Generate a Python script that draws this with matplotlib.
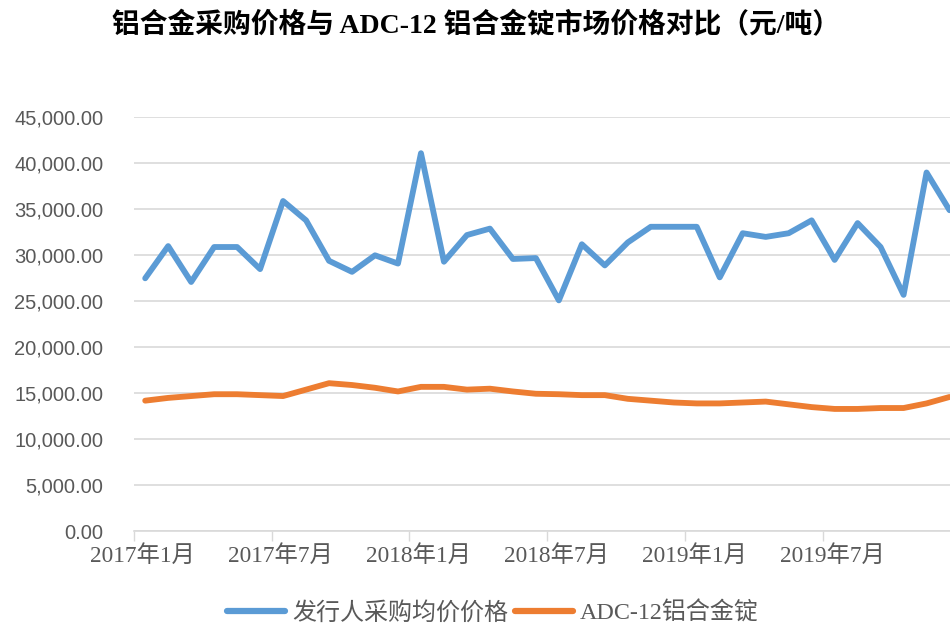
import matplotlib
matplotlib.use("Agg")
import matplotlib.pyplot as plt
from matplotlib.ticker import FuncFormatter, FixedLocator

# Monthly data, Jan 2017 - Dec 2019 (元/吨)
months = [f"{y}年{m}月" for y in (2017, 2018, 2019) for m in range(1, 13)]

purchase_price = [
    27500, 31000, 27100, 30900, 30900, 28500, 35900, 33800, 29400, 28200, 30000, 29100,
    41100, 29300, 32200, 32900, 29600, 29700, 25100, 31200, 28900, 31400, 33100, 33100,
    33100, 27600, 32400, 32000, 32400, 33800, 29500, 33500, 30900, 25700, 39000, 34900,
]
adc12_price = [
    14200, 14500, 14700, 14900, 14900, 14800, 14700, 15400, 16100, 15900, 15600, 15200,
    15700, 15700, 15400, 15500, 15200, 14950, 14900, 14800, 14800, 14400, 14200, 14000,
    13900, 13900, 14000, 14100, 13800, 13500, 13300, 13300, 13400, 13400, 13900, 14600,
]

series_names = ["发行人采购均价价格", "ADC-12铝合金锭"]
title_text = "铝合金采购价格与 ADC-12 铝合金锭市场价格对比（元/吨）"
label_every = 6

BLUE = "#5B9BD5"
ORANGE = "#ED7D31"
TEXT = "#595959"
GRID = "#D9D9D9"

serif_cjk = ["Liberation Serif", "Noto Sans CJK SC"]
sans_cjk = ["Liberation Sans", "Noto Sans CJK SC"]

fig = plt.figure(figsize=(9.5, 6.28), dpi=100)
W, H = 950, 628
left_px, right_px, top_px, bottom_px = 133.7, 950, 117.3, 531.3
ax = fig.add_axes([left_px / W, 1 - bottom_px / H,
                   (right_px - left_px) / W, (bottom_px - top_px) / H])

x = [i + 0.5 for i in range(len(months))]
ax.plot(x, purchase_price, color=BLUE, lw=4.2, solid_joinstyle="round",
        solid_capstyle="round", label=series_names[0], zorder=3)
ax.plot(x, adc12_price, color=ORANGE, lw=4.2, solid_joinstyle="round",
        solid_capstyle="round", label=series_names[1], zorder=3)

ax.set_ylim(0, 45000)
ax.set_yticks(range(0, 45001, 5000))
ax.yaxis.set_major_formatter(FuncFormatter(lambda v, p: f"{v:,.2f}"))
ax.set_xlim(0, 35.52)

# Tick marks between categories, labels centred on the category
ax.xaxis.set_major_locator(FixedLocator(list(range(0, len(months), label_every))))
ax.xaxis.set_minor_locator(FixedLocator([i + 0.4 for i in range(0, len(months), label_every)]))
ax.set_xticklabels([""] * len(range(0, len(months), label_every)))
ax.set_xticklabels([months[i] for i in range(0, len(months), label_every)], minor=True)
ax.tick_params(axis="x", which="major", length=7, width=1, color=GRID, direction="out")
ax.tick_params(axis="x", which="minor", length=0, pad=10, labelsize=16.8, labelcolor=TEXT)
for lbl in ax.get_xticklabels(minor=True):
    lbl.set_family(serif_cjk)

ax.tick_params(axis="y", length=0, pad=22, labelsize=14.5, labelcolor=TEXT)
for lbl in ax.get_yticklabels():
    lbl.set_family(sans_cjk)

ax.grid(axis="y", color=GRID, lw=1.2)
ax.set_axisbelow(True)
for side in ("left", "right", "top"):
    ax.spines[side].set_visible(False)
ax.spines["bottom"].set_color(GRID)
ax.spines["bottom"].set_linewidth(1.2)

fig.text(476 / W, 1 - 26 / H, title_text, ha="center", va="center",
         fontsize=20, fontweight="bold", family=serif_cjk, color="black")

leg = fig.legend(loc="center", bbox_to_anchor=(493 / W, 1 - 613 / H), ncol=2,
                 frameon=False, handlelength=2.4, handletextpad=0.3,
                 columnspacing=0.3, prop={"family": serif_cjk, "size": 17.3})
for t in leg.get_texts():
    t.set_color(TEXT)
for line in leg.get_lines():
    line.set_linewidth(4.5)

fig.savefig("out.png", dpi=100)
